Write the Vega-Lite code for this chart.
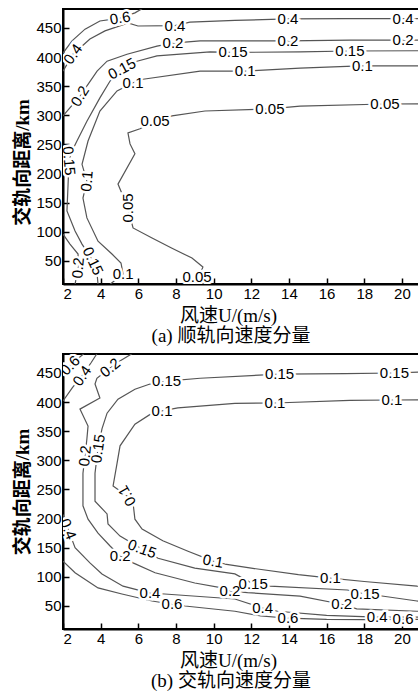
{
"$schema":"https://vega.github.io/schema/vega-lite/v6.json",
"background":"white",
"padding":{"left":12,"top":8,"right":0,"bottom":0},
"spacing":6,
"config":{"view":{"stroke":"#000","strokeWidth":2},
"axis":{"labelFont":"Liberation Sans","labelFontSize":15,"labelColor":"#000","domainColor":"#000","domainWidth":2,"tickColor":"#000","tickWidth":1.5,"tickSize":-6,"labelPadding":8,"grid":false,"titleFont":"Liberation Serif, Noto Sans CJK SC","titleFontSize":19,"titleColor":"#000","titleFontWeight":"normal"}},
"datasets":{
"lines":[
{"p":"a","s":"a06","i":0,"x":2,"y":407},{"p":"a","s":"a06","i":1,"x":2.48,"y":428},{"p":"a","s":"a06","i":2,"x":3.17,"y":448},{"p":"a","s":"a06","i":3,"x":3.96,"y":462},{"p":"a","s":"a06","i":4,"x":5.03,"y":467},{"p":"a","s":"a06","i":5,"x":5.82,"y":476},{"p":"a","s":"a06","i":6,"x":6.2,"y":483},
{"p":"a","s":"a04","i":0,"x":2,"y":376},{"p":"a","s":"a04","i":1,"x":2.53,"y":405},{"p":"a","s":"a04","i":2,"x":3.43,"y":431},{"p":"a","s":"a04","i":3,"x":4.23,"y":445},{"p":"a","s":"a04","i":4,"x":5.13,"y":455},{"p":"a","s":"a04","i":5,"x":5.45,"y":458.6},{"p":"a","s":"a04","i":6,"x":5.98,"y":453.4},{"p":"a","s":"a04","i":7,"x":7.95,"y":454},{"p":"a","s":"a04","i":8,"x":8.74,"y":460},{"p":"a","s":"a04","i":9,"x":11.13,"y":463},{"p":"a","s":"a04","i":10,"x":13.95,"y":465.5},{"p":"a","s":"a04","i":11,"x":17,"y":466},{"p":"a","s":"a04","i":12,"x":20.06,"y":466},{"p":"a","s":"a04","i":13,"x":21.5,"y":466},
{"p":"a","s":"a02u","i":0,"x":2,"y":299},{"p":"a","s":"a02u","i":1,"x":2.9,"y":333},{"p":"a","s":"a02u","i":2,"x":3.81,"y":376},{"p":"a","s":"a02u","i":3,"x":4.34,"y":393},{"p":"a","s":"a02u","i":4,"x":5.4,"y":405},{"p":"a","s":"a02u","i":5,"x":6.99,"y":419},{"p":"a","s":"a02u","i":6,"x":7.84,"y":424},{"p":"a","s":"a02u","i":7,"x":9.28,"y":428},{"p":"a","s":"a02u","i":8,"x":11.13,"y":428},{"p":"a","s":"a02u","i":9,"x":13.95,"y":428},{"p":"a","s":"a02u","i":10,"x":17.24,"y":429},{"p":"a","s":"a02u","i":11,"x":20.06,"y":429},{"p":"a","s":"a02u","i":12,"x":21.5,"y":429},
{"p":"a","s":"a02l","i":0,"x":2,"y":96},{"p":"a","s":"a02l","i":1,"x":2.37,"y":79},{"p":"a","s":"a02l","i":2,"x":2.8,"y":62},{"p":"a","s":"a02l","i":3,"x":2.8,"y":38},{"p":"a","s":"a02l","i":4,"x":2.64,"y":10},
{"p":"a","s":"a015","i":0,"x":3.86,"y":10},{"p":"a","s":"a015","i":1,"x":3.81,"y":28},{"p":"a","s":"a015","i":2,"x":3.59,"y":50},{"p":"a","s":"a015","i":3,"x":3.01,"y":79},{"p":"a","s":"a015","i":4,"x":2.64,"y":101.5},{"p":"a","s":"a015","i":5,"x":2.21,"y":136},{"p":"a","s":"a015","i":6,"x":2.27,"y":182},{"p":"a","s":"a015","i":7,"x":2.32,"y":222},{"p":"a","s":"a015","i":8,"x":2.48,"y":239},{"p":"a","s":"a015","i":9,"x":2.74,"y":256},{"p":"a","s":"a015","i":10,"x":3.27,"y":290},{"p":"a","s":"a015","i":11,"x":3.96,"y":330},{"p":"a","s":"a015","i":12,"x":4.5,"y":359},{"p":"a","s":"a015","i":13,"x":5.13,"y":380},{"p":"a","s":"a015","i":14,"x":5.93,"y":393},{"p":"a","s":"a015","i":15,"x":6.99,"y":402},{"p":"a","s":"a015","i":16,"x":9.81,"y":409},{"p":"a","s":"a015","i":17,"x":11.03,"y":408},{"p":"a","s":"a015","i":18,"x":14.59,"y":409},{"p":"a","s":"a015","i":19,"x":17.24,"y":410.5},{"p":"a","s":"a015","i":20,"x":21.5,"y":411},
{"p":"a","s":"a01","i":0,"x":4.5,"y":10},{"p":"a","s":"a01","i":1,"x":5.19,"y":27.7},{"p":"a","s":"a01","i":2,"x":5.08,"y":46.6},{"p":"a","s":"a01","i":3,"x":4.6,"y":62},{"p":"a","s":"a01","i":4,"x":3.86,"y":84},{"p":"a","s":"a01","i":5,"x":3.27,"y":124},{"p":"a","s":"a01","i":6,"x":3.06,"y":158},{"p":"a","s":"a01","i":7,"x":3.27,"y":187},{"p":"a","s":"a01","i":8,"x":3.01,"y":216},{"p":"a","s":"a01","i":9,"x":3.33,"y":256},{"p":"a","s":"a01","i":10,"x":3.96,"y":307.5},{"p":"a","s":"a01","i":11,"x":4.87,"y":342},{"p":"a","s":"a01","i":12,"x":5.72,"y":356},{"p":"a","s":"a01","i":13,"x":6.25,"y":362},{"p":"a","s":"a01","i":14,"x":9.28,"y":376},{"p":"a","s":"a01","i":15,"x":11.67,"y":376},{"p":"a","s":"a01","i":16,"x":14.59,"y":381},{"p":"a","s":"a01","i":17,"x":17.77,"y":385},{"p":"a","s":"a01","i":18,"x":21.5,"y":385},
{"p":"a","s":"a005","i":0,"x":9.7,"y":10},{"p":"a","s":"a005","i":1,"x":9.23,"y":22.5},{"p":"a","s":"a005","i":2,"x":9.43,"y":39.7},{"p":"a","s":"a005","i":3,"x":8.85,"y":55},{"p":"a","s":"a005","i":4,"x":7.79,"y":72},{"p":"a","s":"a005","i":5,"x":6.73,"y":89.5},{"p":"a","s":"a005","i":6,"x":5.72,"y":106.7},{"p":"a","s":"a005","i":7,"x":5.45,"y":141},{"p":"a","s":"a005","i":8,"x":4.92,"y":182},{"p":"a","s":"a005","i":9,"x":5.82,"y":234},{"p":"a","s":"a005","i":10,"x":5.56,"y":251},{"p":"a","s":"a005","i":11,"x":5.45,"y":270},{"p":"a","s":"a005","i":12,"x":6.09,"y":277},{"p":"a","s":"a005","i":13,"x":6.89,"y":290},{"p":"a","s":"a005","i":14,"x":7.79,"y":299},{"p":"a","s":"a005","i":15,"x":9.54,"y":307.5},{"p":"a","s":"a005","i":16,"x":12.99,"y":311},{"p":"a","s":"a005","i":17,"x":14.59,"y":316},{"p":"a","s":"a005","i":18,"x":19.1,"y":319.5},{"p":"a","s":"a005","i":19,"x":21.5,"y":320},
{"p":"b","s":"b06u","i":0,"x":2,"y":448},{"p":"b","s":"b06u","i":1,"x":2.37,"y":463},{"p":"b","s":"b06u","i":2,"x":3.1,"y":483},
{"p":"b","s":"b04u","i":0,"x":2,"y":402},{"p":"b","s":"b04u","i":1,"x":2.5,"y":425},{"p":"b","s":"b04u","i":2,"x":3.01,"y":445},{"p":"b","s":"b04u","i":3,"x":3.5,"y":468},{"p":"b","s":"b04u","i":4,"x":3.8,"y":483},
{"p":"b","s":"b02","i":0,"x":5.66,"y":483},{"p":"b","s":"b02","i":1,"x":5.0,"y":470},{"p":"b","s":"b02","i":2,"x":4.5,"y":459},{"p":"b","s":"b02","i":3,"x":3.8,"y":441},{"p":"b","s":"b02","i":4,"x":3.7,"y":431},{"p":"b","s":"b02","i":5,"x":3.96,"y":407},{"p":"b","s":"b02","i":6,"x":2.9,"y":388},{"p":"b","s":"b02","i":7,"x":3.33,"y":359},{"p":"b","s":"b02","i":8,"x":3.27,"y":337},{"p":"b","s":"b02","i":9,"x":3.17,"y":307.5},{"p":"b","s":"b02","i":10,"x":3.06,"y":278},{"p":"b","s":"b02","i":11,"x":3.06,"y":251},{"p":"b","s":"b02","i":12,"x":3.06,"y":222},{"p":"b","s":"b02","i":13,"x":3.33,"y":199},{"p":"b","s":"b02","i":14,"x":3.86,"y":175},{"p":"b","s":"b02","i":15,"x":4.5,"y":153},{"p":"b","s":"b02","i":16,"x":5.03,"y":136},{"p":"b","s":"b02","i":17,"x":5.72,"y":124},{"p":"b","s":"b02","i":18,"x":6.89,"y":107},{"p":"b","s":"b02","i":19,"x":9.0,"y":89.5},{"p":"b","s":"b02","i":20,"x":10.44,"y":81},{"p":"b","s":"b02","i":21,"x":10.87,"y":76},{"p":"b","s":"b02","i":22,"x":11.8,"y":73},{"p":"b","s":"b02","i":23,"x":14.59,"y":67},{"p":"b","s":"b02","i":24,"x":16.8,"y":53},{"p":"b","s":"b02","i":25,"x":17.6,"y":45},{"p":"b","s":"b02","i":26,"x":20.8,"y":41},{"p":"b","s":"b02","i":27,"x":21.5,"y":41},
{"p":"b","s":"b015","i":0,"x":21.5,"y":452},{"p":"b","s":"b015","i":1,"x":19.6,"y":450},{"p":"b","s":"b015","i":2,"x":17,"y":449},{"p":"b","s":"b015","i":3,"x":13.5,"y":448},{"p":"b","s":"b015","i":4,"x":9.28,"y":441},{"p":"b","s":"b015","i":5,"x":7.5,"y":436},{"p":"b","s":"b015","i":6,"x":6.62,"y":431},{"p":"b","s":"b015","i":7,"x":5.82,"y":422},{"p":"b","s":"b015","i":8,"x":4.92,"y":405},{"p":"b","s":"b015","i":9,"x":4.34,"y":381},{"p":"b","s":"b015","i":10,"x":4.07,"y":354},{"p":"b","s":"b015","i":11,"x":3.86,"y":320},{"p":"b","s":"b015","i":12,"x":3.7,"y":278},{"p":"b","s":"b015","i":13,"x":3.7,"y":251},{"p":"b","s":"b015","i":14,"x":3.7,"y":230},{"p":"b","s":"b015","i":15,"x":4.34,"y":208},{"p":"b","s":"b015","i":16,"x":4.39,"y":191},{"p":"b","s":"b015","i":17,"x":5.03,"y":170},{"p":"b","s":"b015","i":18,"x":6.2,"y":148},{"p":"b","s":"b015","i":19,"x":7.05,"y":132},{"p":"b","s":"b015","i":20,"x":9.0,"y":115},{"p":"b","s":"b015","i":21,"x":11.13,"y":105},{"p":"b","s":"b015","i":22,"x":12.1,"y":88},{"p":"b","s":"b015","i":23,"x":12.99,"y":84},{"p":"b","s":"b015","i":24,"x":17.1,"y":77.5},{"p":"b","s":"b015","i":25,"x":18.04,"y":70.6},{"p":"b","s":"b015","i":26,"x":18.94,"y":67.2},{"p":"b","s":"b015","i":27,"x":20.8,"y":58.6},{"p":"b","s":"b015","i":28,"x":21.5,"y":57},
{"p":"b","s":"b01","i":0,"x":21.5,"y":83},{"p":"b","s":"b01","i":1,"x":20.8,"y":84},{"p":"b","s":"b01","i":2,"x":18,"y":92},{"p":"b","s":"b01","i":3,"x":16.2,"y":98},{"p":"b","s":"b01","i":4,"x":14.5,"y":104},{"p":"b","s":"b01","i":5,"x":12,"y":115},{"p":"b","s":"b01","i":6,"x":10.6,"y":122},{"p":"b","s":"b01","i":7,"x":9.97,"y":127},{"p":"b","s":"b01","i":8,"x":8.64,"y":144},{"p":"b","s":"b01","i":9,"x":7.3,"y":162},{"p":"b","s":"b01","i":10,"x":6.2,"y":182},{"p":"b","s":"b01","i":11,"x":5.82,"y":199},{"p":"b","s":"b01","i":12,"x":5.72,"y":227},{"p":"b","s":"b01","i":13,"x":5.4,"y":239},{"p":"b","s":"b01","i":14,"x":4.66,"y":256},{"p":"b","s":"b01","i":15,"x":4.87,"y":295},{"p":"b","s":"b01","i":16,"x":5.03,"y":325},{"p":"b","s":"b01","i":17,"x":5.82,"y":362},{"p":"b","s":"b01","i":18,"x":6.73,"y":381},{"p":"b","s":"b01","i":19,"x":7.26,"y":385},{"p":"b","s":"b01","i":20,"x":8.1,"y":390},{"p":"b","s":"b01","i":21,"x":11.13,"y":398},{"p":"b","s":"b01","i":22,"x":13.26,"y":398.5},{"p":"b","s":"b01","i":23,"x":17.24,"y":403},{"p":"b","s":"b01","i":24,"x":19.47,"y":403.6},{"p":"b","s":"b01","i":25,"x":21.5,"y":404},
{"p":"b","s":"b04l","i":0,"x":2,"y":207},{"p":"b","s":"b04l","i":1,"x":2.27,"y":182},{"p":"b","s":"b04l","i":2,"x":2.64,"y":150},{"p":"b","s":"b04l","i":3,"x":3.43,"y":124},{"p":"b","s":"b04l","i":4,"x":4.07,"y":105},{"p":"b","s":"b04l","i":5,"x":5.19,"y":84},{"p":"b","s":"b04l","i":6,"x":6.62,"y":72},{"p":"b","s":"b04l","i":7,"x":7.4,"y":70.6},{"p":"b","s":"b04l","i":8,"x":11.13,"y":62},{"p":"b","s":"b04l","i":9,"x":12.6,"y":46.6},{"p":"b","s":"b04l","i":10,"x":13.4,"y":41},{"p":"b","s":"b04l","i":11,"x":16,"y":34},{"p":"b","s":"b04l","i":12,"x":18.68,"y":31},{"p":"b","s":"b04l","i":13,"x":19.5,"y":31},{"p":"b","s":"b04l","i":14,"x":21.5,"y":31},
{"p":"b","s":"b06l","i":0,"x":2,"y":127},{"p":"b","s":"b06l","i":1,"x":2.64,"y":107},{"p":"b","s":"b06l","i":2,"x":3.86,"y":81},{"p":"b","s":"b06l","i":3,"x":5.13,"y":70.6},{"p":"b","s":"b06l","i":4,"x":6.73,"y":58.6},{"p":"b","s":"b06l","i":5,"x":7.79,"y":53},{"p":"b","s":"b06l","i":6,"x":8.48,"y":50},{"p":"b","s":"b06l","i":7,"x":11.13,"y":41},{"p":"b","s":"b06l","i":8,"x":12.5,"y":33},{"p":"b","s":"b06l","i":9,"x":13.95,"y":29},{"p":"b","s":"b06l","i":10,"x":16,"y":27},{"p":"b","s":"b06l","i":11,"x":18,"y":26.5},{"p":"b","s":"b06l","i":12,"x":20.06,"y":27},{"p":"b","s":"b06l","i":13,"x":21.5,"y":27}
],
"labels":[
{"p":"a","t":"0.6","x":5.03,"y":467,"tilt":350},{"p":"a","t":"0.4","x":2.53,"y":405,"tilt":305},{"p":"a","t":"0.4","x":7.95,"y":454,"tilt":0},{"p":"a","t":"0.4","x":13.95,"y":465.5,"tilt":0},{"p":"a","t":"0.4","x":20.06,"y":466,"tilt":0},
{"p":"a","t":"0.2","x":2.9,"y":333,"tilt":302},{"p":"a","t":"0.2","x":7.84,"y":424,"tilt":0},{"p":"a","t":"0.2","x":13.95,"y":428,"tilt":0},{"p":"a","t":"0.2","x":20.06,"y":429,"tilt":0},
{"p":"a","t":"0.15","x":5.13,"y":380,"tilt":332},{"p":"a","t":"0.15","x":11.03,"y":408,"tilt":0},{"p":"a","t":"0.15","x":17.24,"y":410.5,"tilt":0},{"p":"a","t":"0.15","x":2.32,"y":222,"tilt":85},{"p":"a","t":"0.15","x":3.59,"y":50,"tilt":65},{"p":"a","t":"0.2","x":2.8,"y":38,"tilt":275},
{"p":"a","t":"0.1","x":5.72,"y":356,"tilt":0},{"p":"a","t":"0.1","x":11.67,"y":376,"tilt":0},{"p":"a","t":"0.1","x":17.9,"y":384,"tilt":0},{"p":"a","t":"0.1","x":3.27,"y":187,"tilt":275},{"p":"a","t":"0.1","x":5.19,"y":27.7,"tilt":0},
{"p":"a","t":"0.05","x":6.89,"y":290,"tilt":0},{"p":"a","t":"0.05","x":12.99,"y":311,"tilt":0},{"p":"a","t":"0.05","x":19.1,"y":319.5,"tilt":0},{"p":"a","t":"0.05","x":5.45,"y":141,"tilt":270},{"p":"a","t":"0.05","x":9.12,"y":22.5,"tilt":0},
{"p":"b","t":"0.6","x":2.37,"y":463,"tilt":315},{"p":"b","t":"0.4","x":3.01,"y":445,"tilt":305},{"p":"b","t":"0.2","x":4.5,"y":459,"tilt":320},
{"p":"b","t":"0.15","x":7.5,"y":436,"tilt":0},{"p":"b","t":"0.15","x":13.5,"y":448,"tilt":0},{"p":"b","t":"0.15","x":19.6,"y":450,"tilt":0},
{"p":"b","t":"0.1","x":7.26,"y":385,"tilt":0},{"p":"b","t":"0.1","x":13.26,"y":398.5,"tilt":0},{"p":"b","t":"0.1","x":19.47,"y":403.6,"tilt":0},
{"p":"b","t":"0.2","x":3.17,"y":307.5,"tilt":275},{"p":"b","t":"0.15","x":3.86,"y":320,"tilt":278},{"p":"b","t":"0.1","x":5.4,"y":239,"tilt":240},{"p":"b","t":"0.4","x":2.27,"y":182,"tilt":68},
{"p":"b","t":"0.2","x":5.03,"y":136,"tilt":0},{"p":"b","t":"0.15","x":6.2,"y":148,"tilt":20},{"p":"b","t":"0.1","x":9.97,"y":127,"tilt":10},
{"p":"b","t":"0.2","x":10.87,"y":76,"tilt":0},{"p":"b","t":"0.15","x":12.1,"y":88,"tilt":0},{"p":"b","t":"0.1","x":16.2,"y":98,"tilt":0},{"p":"b","t":"0.15","x":18.04,"y":70.6,"tilt":0},{"p":"b","t":"0.2","x":16.8,"y":53,"tilt":0},
{"p":"b","t":"0.4","x":6.62,"y":72,"tilt":0},{"p":"b","t":"0.6","x":7.79,"y":53,"tilt":0},{"p":"b","t":"0.4","x":12.6,"y":46.6,"tilt":0},{"p":"b","t":"0.6","x":13.95,"y":29,"tilt":0},{"p":"b","t":"0.4","x":18.68,"y":31,"tilt":0},{"p":"b","t":"0.6","x":20.06,"y":27,"tilt":0}
]},
"vconcat":[
{"width":360,"height":275,
"title":{"text":"(a) 顺轨向速度分量","orient":"bottom","anchor":"middle","font":"Liberation Serif, Noto Sans CJK SC","fontSize":19,"fontWeight":"normal","color":"#000","offset":2,"dx":-12},
"encoding":{
"x":{"field":"x","type":"quantitative","scale":{"domain":[2,21.12],"nice":false,"zero":false},"axis":{"values":[2,4,6,8,10,12,14,16,18,20],"title":"风速U/(m/s)","titlePadding":5,"titleX":165}},
"y":{"field":"y","type":"quantitative","scale":{"domain":[10.5,482.6],"nice":false,"zero":false},"axis":{"values":[50,100,150,200,250,300,350,400,450],"title":"交轨向距离/km","titleFontWeight":"bold","titlePadding":3,"titleY":153}}},
"layer":[
{"data":{"name":"lines"},"transform":[{"filter":"datum.p==='a'"}],"mark":{"type":"line","color":"#555","strokeWidth":1.2,"clip":true},"encoding":{"detail":{"field":"s"},"order":{"field":"i","type":"quantitative"}}},
{"data":{"name":"labels"},"transform":[{"filter":"datum.p==='a'"}],"mark":{"type":"text","font":"Liberation Sans","fontSize":15,"color":"white","stroke":"white","strokeWidth":5,"clip":true},"encoding":{"text":{"field":"t"},"angle":{"field":"tilt","type":"quantitative","scale":{"domain":[0,360],"range":[0,360]}}}},
{"data":{"name":"labels"},"transform":[{"filter":"datum.p==='a'"}],"mark":{"type":"text","font":"Liberation Sans","fontSize":15,"color":"#000","clip":true},"encoding":{"text":{"field":"t"},"angle":{"field":"tilt","type":"quantitative","scale":{"domain":[0,360],"range":[0,360]}}}}
]},
{"width":360,"height":275,
"title":{"text":"(b) 交轨向速度分量","orient":"bottom","anchor":"middle","font":"Liberation Serif, Noto Sans CJK SC","fontSize":19,"fontWeight":"normal","color":"#000","offset":2,"dx":-12},
"encoding":{
"x":{"field":"x","type":"quantitative","scale":{"domain":[2,21.12],"nice":false,"zero":false},"axis":{"values":[2,4,6,8,10,12,14,16,18,20],"title":"风速U/(m/s)","titlePadding":5,"titleX":165}},
"y":{"field":"y","type":"quantitative","scale":{"domain":[10.5,482.6],"nice":false,"zero":false},"axis":{"values":[50,100,150,200,250,300,350,400,450],"title":"交轨向距离/km","titleFontWeight":"bold","titlePadding":3}}},
"layer":[
{"data":{"name":"lines"},"transform":[{"filter":"datum.p==='b'"}],"mark":{"type":"line","color":"#555","strokeWidth":1.2,"clip":true},"encoding":{"detail":{"field":"s"},"order":{"field":"i","type":"quantitative"}}},
{"data":{"name":"labels"},"transform":[{"filter":"datum.p==='b'"}],"mark":{"type":"text","font":"Liberation Sans","fontSize":15,"color":"white","stroke":"white","strokeWidth":5,"clip":true},"encoding":{"text":{"field":"t"},"angle":{"field":"tilt","type":"quantitative","scale":{"domain":[0,360],"range":[0,360]}}}},
{"data":{"name":"labels"},"transform":[{"filter":"datum.p==='b'"}],"mark":{"type":"text","font":"Liberation Sans","fontSize":15,"color":"#000","clip":true},"encoding":{"text":{"field":"t"},"angle":{"field":"tilt","type":"quantitative","scale":{"domain":[0,360],"range":[0,360]}}}}
]}
]}
